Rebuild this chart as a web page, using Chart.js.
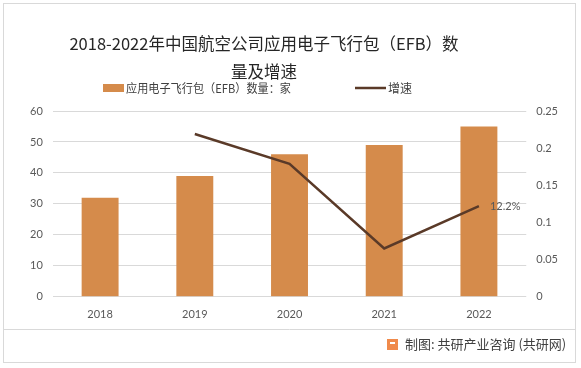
<!DOCTYPE html>
<html lang="zh">
<head>
<meta charset="UTF-8">
<title>2018-2022年中国航空公司应用电子飞行包（EFB）数量及增速</title>
<script src="https://cdn.jsdelivr.net/npm/chart.js"></script>
<style>
  html, body { margin: 0; padding: 0; background: #fff; }
  .wrap { position: relative; width: 581px; height: 368px; }
</style>
</head>
<body>
<div class="wrap">
  <canvas id="efbChart" width="581" height="368"></canvas>
</div>

<script>
// chart data
const years = ['2018', '2019', '2020', '2021', '2022'];
const efbCount = [32, 39, 46, 49, 55];
const growthRate = [null, 0.219, 0.179, 0.065, 0.122];
const leftTicks = [0, 10, 20, 30, 40, 50, 60];
const rightTicks = [0, 0.05, 0.1, 0.15, 0.2, 0.25];

const titleLines = ['2018-2022年中国航空公司应用电子飞行包（EFB）数', '量及增速'];
const barLabel = '应用电子飞行包（EFB）数量：家';
const lineLabel = '增速';

const barColor = '#D58B4B';
const lineColor = '#5A3A28';
const tickColor = '#595959';
const fontFamily = 'Lato, "Noto Sans CJK SC", sans-serif';
const cjkFont = '"Noto Sans CJK SC", sans-serif';

// frame, title, legend, footer and the 12.2% label
const decorPlugin = {
  id: 'decor',
  beforeDraw(chart) {
    const ctx = chart.ctx;
    ctx.save();
    ctx.fillStyle = '#fff';
    ctx.fillRect(0, 0, chart.width, chart.height);
    ctx.strokeStyle = '#d9d9d9';
    ctx.lineWidth = 1;
    ctx.strokeRect(3.5, 3.5, 572, 359);
    ctx.beginPath();
    ctx.moveTo(4, 329.5);
    ctx.lineTo(575, 329.5);
    ctx.stroke();
    ctx.restore();
  },
  afterDraw(chart) {
    const ctx = chart.ctx;
    ctx.save();
    ctx.textBaseline = 'middle';
    // title
    ctx.fillStyle = '#262626';
    ctx.font = '16.5px ' + cjkFont;
    ctx.textAlign = 'center';
    ctx.fillText(titleLines[0], 264, 44);
    ctx.fillText(titleLines[1], 264, 72);
    // legend
    ctx.textAlign = 'left';
    ctx.fillStyle = barColor;
    ctx.fillRect(103, 84, 21, 8);
    ctx.strokeStyle = lineColor;
    ctx.lineWidth = 2.5;
    ctx.beginPath();
    ctx.moveTo(355, 88);
    ctx.lineTo(386, 88);
    ctx.stroke();
    ctx.fillStyle = '#404040';
    ctx.font = '12px ' + cjkFont;
    ctx.fillText(barLabel, 126, 88, 165);
    ctx.fillText(lineLabel, 388, 88);
    // footer icon
    ctx.fillStyle = '#F08A4B';
    ctx.fillRect(387, 339, 11, 11);
    ctx.fillStyle = '#fff';
    ctx.fillRect(390, 342, 5, 2);
    // footer text
    ctx.fillStyle = '#404040';
    ctx.font = '13px ' + cjkFont;
    ctx.fillText('制图: 共研产业咨询 (共研网)', 405, 344);
    // last growth label
    const meta = chart.getDatasetMeta(0);
    const pt = meta.data[meta.data.length - 1];
    const v = growthRate[growthRate.length - 1];
    ctx.fillStyle = tickColor;
    ctx.font = '11px ' + fontFamily;
    ctx.fillText((v * 100).toFixed(1) + '%', pt.x + 11, pt.y);
    ctx.restore();
  }
};

const ctx = document.getElementById('efbChart').getContext('2d');
new Chart(ctx, {
  data: {
    labels: years,
    datasets: [{
      type: 'line',
      label: lineLabel,
      data: growthRate,
      yAxisID: 'y1',
      borderColor: lineColor,
      backgroundColor: lineColor,
      borderWidth: 2.5,
      pointRadius: 0,
      tension: 0,
      order: 0
    }, {
      type: 'bar',
      label: barLabel,
      data: efbCount,
      yAxisID: 'y',
      backgroundColor: barColor,
      barPercentage: 0.39,
      categoryPercentage: 1,
      order: 1
    }]
  },
  options: {
    responsive: false,
    animation: false,
    layout: { padding: { left: 20, right: 13, top: 111, bottom: 44 } },
    plugins: {
      title: { display: false },
      legend: { display: false },
      tooltip: { enabled: false }
    },
    scales: {
      x: {
        grid: { display: false },
        border: { display: false },
        ticks: { color: tickColor, font: { size: 11, family: fontFamily }, padding: 3 }
      },
      y: {
        position: 'left',
        min: 0,
        max: 60,
        afterBuildTicks(axis) { axis.ticks = leftTicks.map(v => ({ value: v })); },
        grid: { color: '#d9d9d9', drawTicks: false },
        border: { display: false },
        ticks: { color: tickColor, font: { size: 11, family: fontFamily }, padding: 10 }
      },
      y1: {
        position: 'right',
        min: 0,
        max: 0.25,
        afterBuildTicks(axis) { axis.ticks = rightTicks.map(v => ({ value: v })); },
        grid: { display: false, drawTicks: false },
        border: { display: false },
        ticks: { color: tickColor, font: { size: 11, family: fontFamily }, padding: 10,
          callback: v => String(+v.toFixed(2)) }
      }
    }
  },
  plugins: [decorPlugin]
});
</script>
</body>
</html>
